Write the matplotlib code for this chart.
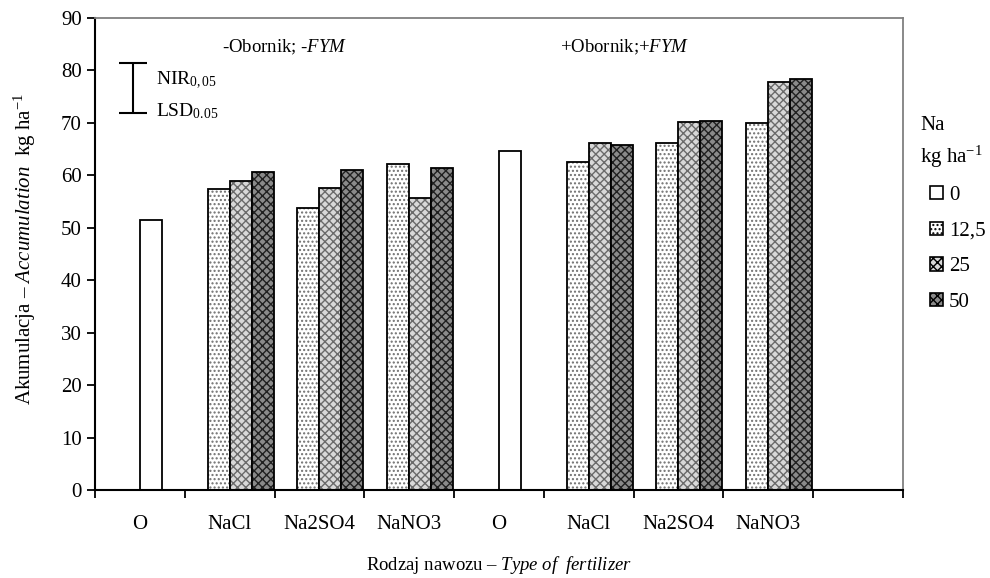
import matplotlib.pyplot as plt
from matplotlib.patches import Patch
import numpy as np

plt.rcParams['font.family'] = ['Liberation Serif', 'DejaVu Serif']
plt.rcParams['mathtext.fontset'] = 'custom'
plt.rcParams['mathtext.rm'] = 'Liberation Serif'
plt.rcParams['mathtext.it'] = 'Liberation Serif:italic'
plt.rcParams['hatch.linewidth'] = 1.0

categories = ['O', 'NaCl', 'Na2SO4', 'NaNO3', 'O', 'NaCl', 'Na2SO4', 'NaNO3', '']
rates = ['0', '12,5', '25', '50']
nan = np.nan
na_0 = [51.5, nan, nan, nan, 64.6, nan, nan, nan]
na_12 = [nan, 57.3, 53.8, 62.2, nan, 62.5, 66.2, 70.0]
na_25 = [nan, 59.0, 57.6, 55.7, nan, 66.2, 70.1, 77.7]
na_50 = [nan, 60.7, 61.1, 61.4, nan, 65.8, 70.4, 78.3]
nir_center = 76.7
nir_half = 4.75

series = [na_0, na_12, na_25, na_50]
# bar centre within each category slot (slot width = 1)
offsets = [0.6225, 0.3775, 0.6225, 0.8675]
faces = ['white', 'white', '#d8d8d8', '#8a8a8a']
hatches = [None, '....', 'xxxx', 'xxxx']
hatch_cols = ['white', '#707070', '#6a6a6a', '#202020']
width = 0.245

fig = plt.figure(figsize=(9.9, 5.78), dpi=100)
ax = fig.add_axes([0.096, 0.152, 0.816, 0.817])

x = np.arange(len(na_0))
for vals, off, fc, h, hc in zip(series, offsets, faces, hatches, hatch_cols):
    ax.bar(x + off, vals, width, color=fc, hatch=h, edgecolor=hc, linewidth=0)
    ax.bar(x + off, vals, width, fill=False, edgecolor='black', linewidth=1.3)

ax.set_xlim(0, 9)
ax.set_ylim(0, 90)
ax.set_yticks(range(0, 91, 10))
ax.set_xticks(range(0, 10))
ax.set_xticklabels([])
ax.set_xticks(np.arange(9) + 0.5, labels=categories, minor=True)
ax.tick_params(axis='x', which='minor', length=0, pad=18, labelsize=15)
ax.tick_params(axis='x', which='major', direction='out', length=6, width=1.3)
ax.tick_params(axis='y', direction='out', length=6, width=1.3, labelsize=15)
for s in ['left', 'bottom']:
    ax.spines[s].set_linewidth(1.5)
for s in ['top', 'right']:
    ax.spines[s].set_color('#808080')
    ax.spines[s].set_linewidth(1.3)

ax.set_xlabel(r'Rodzaj nawozu – $\mathit{Type\ of\ \ fertilizer}$', fontsize=13.5)
ax.xaxis.set_label_coords(0.5, -0.135)
ax.set_ylabel(r'Akumulacja – $\mathit{Accumulation}$  kg ha$^{-1}$', fontsize=15)
ax.yaxis.set_label_coords(-0.07, 0.51)

ax.text(1.42, 84.3, r'-Obornik; -$\mathit{FYM}$', fontsize=13.5, va='center')
ax.text(5.18, 84.3, r'+Obornik;+$\mathit{FYM}$', fontsize=13.5, va='center')

ax.errorbar([0.42], [nir_center], yerr=[nir_half], color='black', capsize=10,
            capthick=1.5, elinewidth=1.5, fmt='none')
ax.text(0.68, 78.0, r'NIR$_{0,05}$', fontsize=14, va='center')
ax.text(0.68, 72.2, r'LSD$_{0.05}$', fontsize=14, va='center')

fig.text(920 / 990, 1 - 125 / 578, 'Na', fontsize=15, va='center')
fig.text(920 / 990, 1 - 157 / 578, r'kg ha$^{-1}$', fontsize=15, va='center')
handles = [Patch(facecolor=fc, hatch=h, edgecolor='black', linewidth=1.2)
           for fc, h in zip(faces, hatches)]
ax.legend(handles, rates, loc='upper left', bbox_to_anchor=(930 / 990, 1 - 186 / 578),
          bbox_transform=fig.transFigure, frameon=False, fontsize=15,
          handlelength=0.6, handleheight=0.6, handletextpad=0.3,
          labelspacing=0.8, borderpad=0, borderaxespad=0)

fig.savefig('out.png', dpi=100)
